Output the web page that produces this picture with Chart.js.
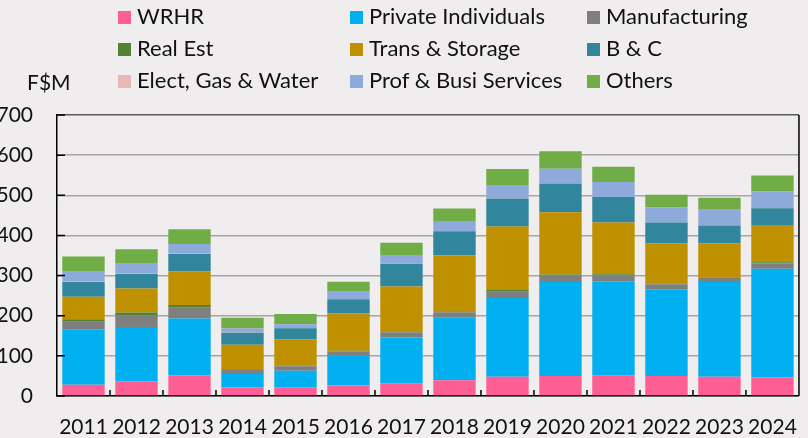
<!DOCTYPE html>
<html>
<head>
<meta charset="utf-8">
<script src="https://cdn.jsdelivr.net/npm/chart.js@4.4.1/dist/chart.umd.min.js"></script>
<style>
  body { margin: 0; background: #efeded; font-family: Lato, sans-serif; color: #111; }
  #wrap { position: relative; width: 808px; height: 438px; }
  #chart { position: absolute; left: 0; top: 0; }
  .unit { position: absolute; left: 27px; top: 68px; font-size: 21px; line-height: 28px; }
  .key { position: absolute; font-size: 22px; line-height: 28px; white-space: nowrap; }
  .key i { display: inline-block; width: 13px; height: 13px; margin-right: 6px; vertical-align: 0px; }
</style>
</head>
<body>
<div id="wrap">
  <canvas id="chart" width="808" height="438"></canvas>
  <div class="unit">F$M</div>
  <div id="legend"></div>
</div>
<script>
const years = ["2011", "2012", "2013", "2014", "2015", "2016", "2017", "2018", "2019", "2020", "2021", "2022", "2023", "2024"];

const wrhr          = [28, 37, 51, 21, 22, 26, 32, 39, 48, 50, 52, 50, 48, 46];
const privateInd    = [137, 135, 142, 34, 41, 74, 114, 156, 196, 234, 234, 216, 236, 271];
const manufacturing = [20, 29, 27, 10, 11, 11, 12, 13, 16, 17, 15, 12, 10, 14];
const realEst       = [6, 7, 7, 1.5, 1.5, 2, 1.5, 1.5, 4, 1.5, 2.5, 2, 1.5, 2];
const transStorage  = [56, 60, 83, 61, 65, 93, 113, 141, 158, 155, 129, 100, 85, 91];
const bAndC         = [37, 36, 44, 30, 28, 35, 57, 60, 70, 72, 63, 52, 44, 44];
const electGasWater = [0.5, 0.5, 0.5, 0.5, 0.5, 0.5, 0.5, 0.5, 0.5, 0.5, 0.5, 0.5, 0.5, 0.5];
const profBusi      = [27, 27, 24, 10, 10, 18, 21, 25, 33, 36, 37, 37, 41, 41];
const others        = [36, 34, 37, 27, 25, 25, 31, 31, 40, 44, 38, 32, 28, 40];

const yTicks = [0, 100, 200, 300, 400, 500, 600, 700];

const series = [
  { label: "WRHR", data: wrhr, color: "#fd5f95" },
  { label: "Private Individuals", data: privateInd, color: "#00b0f0" },
  { label: "Manufacturing", data: manufacturing, color: "#7f7f7f" },
  { label: "Real Est", data: realEst, color: "#548235" },
  { label: "Trans & Storage", data: transStorage, color: "#bf9000" },
  { label: "B & C", data: bAndC, color: "#31859c" },
  { label: "Elect, Gas & Water", data: electGasWater, color: "#e6b8b7" },
  { label: "Prof & Busi Services", data: profBusi, color: "#8eaadb" },
  { label: "Others", data: others, color: "#70ad47" }
];

// legend: 3 columns, filled row by row
const legendCols = [118, 350, 587];
const legendRows = [2, 34, 66];
const legendBox = document.getElementById("legend");
series.forEach((s, i) => {
  const el = document.createElement("div");
  el.className = "key";
  el.style.left = legendCols[i % 3] + "px";
  el.style.top = legendRows[Math.floor(i / 3)] + "px";
  el.innerHTML = '<i style="background:' + s.color + '"></i>' + s.label.replace(/&/g, "&amp;");
  legendBox.appendChild(el);
});

// right border plus the short inside tick marks on both axes
const frame = {
  id: "frame",
  afterDatasetsDraw(chart) {
    const { ctx, chartArea: a, scales: { x, y } } = chart;
    ctx.save();
    ctx.strokeStyle = "#000";
    ctx.lineWidth = 1.5;
    ctx.beginPath();
    ctx.moveTo(a.right, a.top);
    ctx.lineTo(a.right, a.bottom);
    yTicks.forEach(v => {
      const py = y.getPixelForValue(v);
      ctx.moveTo(a.left, py);
      ctx.lineTo(a.left + 8, py);
    });
    for (let i = 1; i < years.length; i++) {
      const px = (x.getPixelForValue(i - 1) + x.getPixelForValue(i)) / 2;
      ctx.moveTo(px, a.bottom);
      ctx.lineTo(px, a.bottom - 6);
    }
    ctx.stroke();
    ctx.restore();
  }
};

new Chart(document.getElementById("chart"), {
  type: "bar",
  data: {
    labels: years,
    datasets: series.map(s => ({
      label: s.label,
      data: s.data,
      backgroundColor: s.color,
      borderWidth: 0,
      categoryPercentage: 1,
      barPercentage: 0.8
    }))
  },
  options: {
    responsive: false,
    animation: false,
    layout: { padding: { top: 115, right: 5, left: 0, bottom: 0 } },
    plugins: { legend: { display: false }, tooltip: { enabled: false } },
    scales: {
      x: {
        stacked: true,
        grid: { display: false },
        border: { color: "#000", width: 1.5 },
        ticks: { color: "#111", font: { family: "Lato", size: 21 }, padding: 11, maxRotation: 0 },
        afterFit: s => { s.height = 42; }
      },
      y: {
        stacked: true,
        min: 0,
        max: 700,
        afterBuildTicks: s => { s.ticks = yTicks.map(v => ({ value: v })); },
        grid: {
          drawTicks: false,
          color: c => c.tick.value === 700 ? "#595959" : "#a6a6a6",
          lineWidth: 1.5
        },
        border: { color: "#000", width: 1.5 },
        ticks: { color: "#111", font: { family: "Lato", size: 21 }, padding: 24 },
        afterFit: s => { s.width = 57; }
      }
    }
  },
  plugins: [frame]
});
</script>
</body>
</html>
